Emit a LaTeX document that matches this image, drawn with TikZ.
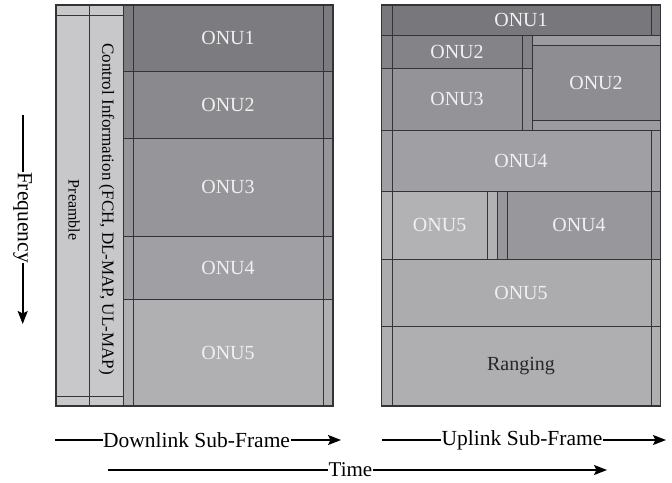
\documentclass[tikz,border=0pt]{standalone}
\usepackage{fontspec}
\setmainfont{Liberation Serif}
\usetikzlibrary{arrows.meta}
\definecolor{gridline}{RGB}{52,52,55}
\definecolor{pre}{RGB}{200,200,203}
\definecolor{dlA}{RGB}{124,124,128}
\definecolor{dlB}{RGB}{138,138,142}
\definecolor{dlC}{RGB}{150,150,154}
\definecolor{dlD}{RGB}{160,160,164}
\definecolor{dlE}{RGB}{176,176,179}
\definecolor{ulA}{RGB}{120,120,124}
\definecolor{ulB}{RGB}{132,132,136}
\definecolor{ulC}{RGB}{148,148,152}
\definecolor{ulR}{RGB}{142,142,146}
\definecolor{ulS}{RGB}{156,156,160}
\definecolor{ulD}{RGB}{160,160,164}
\definecolor{ulE}{RGB}{178,178,181}
\definecolor{ulF}{RGB}{152,152,156}
\definecolor{ulG}{RGB}{172,172,175}
\definecolor{ulH}{RGB}{175,175,178}

\begin{document}
\begin{tikzpicture}[x=1pt,y=-1pt,
  slot/.style={draw=gridline,line width=0.9pt},
  frame/.style={draw=gridline,line width=1.4pt},
  onu/.style={text=white!94!black,font=\fontsize{20}{24}\selectfont},
  axis/.style={line width=1.7pt,-{Stealth[length=13pt,width=10pt,inset=2.5pt]}},
  axislabel/.style={fill=white,inner sep=0.5pt,font=\fontsize{21.5}{26}\selectfont}]
\useasboundingbox (0,0) rectangle (672,482);
% downlink sub-frame
\fill[pre] (56,5) rectangle (123,406);
\draw[slot] (89.5,5) -- (89.5,406);
\draw[slot] (56,15) -- (123,15);
\draw[slot] (56,396) -- (123,396);
\draw[slot,fill=dlA] (123,5) rectangle (333,71.7);
\draw[slot,fill=dlB] (123,71.7) rectangle (333,138);
\draw[slot,fill=dlC] (123,138) rectangle (333,236);
\draw[slot,fill=dlD] (123,236) rectangle (333,299);
\draw[slot,fill=dlE] (123,299) rectangle (333,406);
\draw[slot] (133,5) -- (133,406);
\draw[slot] (323,5) -- (323,406);
\draw[frame] (56,5) rectangle (333,406);
\node at (74,210) (pre) [rotate=-90,font=\fontsize{16}{19}\selectfont] {Preamble};
\node at (106.5,209) (ctrl) [rotate=-90,font=\fontsize{17}{20}\selectfont] {Control Information (FCH, DL-MAP, UL-MAP)};
\node at (228,38.3) (d1) [onu] {ONU1};
\node at (228,104.9) (d2) [onu] {ONU2};
\node at (228,187) (d3) [onu] {ONU3};
\node at (228,267.5) (d4) [onu] {ONU4};
\node at (228,352.5) (d5) [onu] {ONU5};
% uplink sub-frame
\draw[slot,fill=ulA] (381.7,5) rectangle (660.5,35);
\draw[slot,fill=ulB] (381.7,35) rectangle (532.3,68.3);
\draw[slot,fill=ulC] (381.7,68.3) rectangle (532.3,130);
\draw[slot] (522.3,35) -- (522.3,130);
\draw[slot,fill=ulS] (532.3,35) rectangle (660.5,130);
\draw[slot,fill=ulR] (532.3,45.7) rectangle (660.5,120.7);
\draw[slot,fill=ulD] (381.7,130) rectangle (660.5,191.7);
\draw[slot,fill=ulE] (381.7,191.7) rectangle (497.3,259);
\draw[slot] (487.3,191.7) -- (487.3,259);
\draw[slot,fill=ulF] (497.3,191.7) rectangle (660.5,259);
\draw[slot] (507.3,191.7) -- (507.3,259);
\draw[slot,fill=ulG] (381.7,259) rectangle (660.5,326);
\draw[slot,fill=ulH] (381.7,326) rectangle (660.5,406);
\draw[slot] (392,5) -- (392,406);
\draw[slot] (651,5) -- (651,35);
\draw[slot] (651,130) -- (651,406);
\draw[frame] (381.7,5) rectangle (660.5,406);
\node at (521,20) (u1) [onu] {ONU1};
\node at (457,51.7) (u2) [onu] {ONU2};
\node at (457,99) (u3) [onu] {ONU3};
\node at (596,83.2) (u2b) [onu] {ONU2};
\node at (521,161) (u4) [onu] {ONU4};
\node at (439.6,225.3) (u5) [onu] {ONU5};
\node at (579,225.3) (u4b) [onu] {ONU4};
\node at (521,292.5) (u5b) [onu] {ONU5};
\node at (521,366) (rng) [onu,text=black!85] {Ranging};
% axes
\coordinate (dl-s) at (55,440);
\coordinate (dl-e) at (341,440);
\coordinate (ul-s) at (382,440);
\coordinate (ul-e) at (666,440);
\coordinate (t-s) at (108,470);
\coordinate (t-e) at (607,470);
\coordinate (f-s) at (22.7,115);
\coordinate (f-e) at (22.7,324);
\draw[axis] (dl-s) -- node[axislabel,pos=0.495] (dl) {Downlink Sub-Frame} (dl-e);
\draw[axis] (ul-s) -- node[axislabel,pos=0.493] (ul) {Uplink Sub-Frame} (ul-e);
\draw[axis] (t-s) -- node[axislabel,pos=0.486,font=\fontsize{21}{24}\selectfont] (time) {Time} (t-e);
\draw[axis] (f-s) -- node[axislabel,rotate=-90,pos=0.49] (freq) {Frequency} (f-e);
\end{tikzpicture}
\end{document}
